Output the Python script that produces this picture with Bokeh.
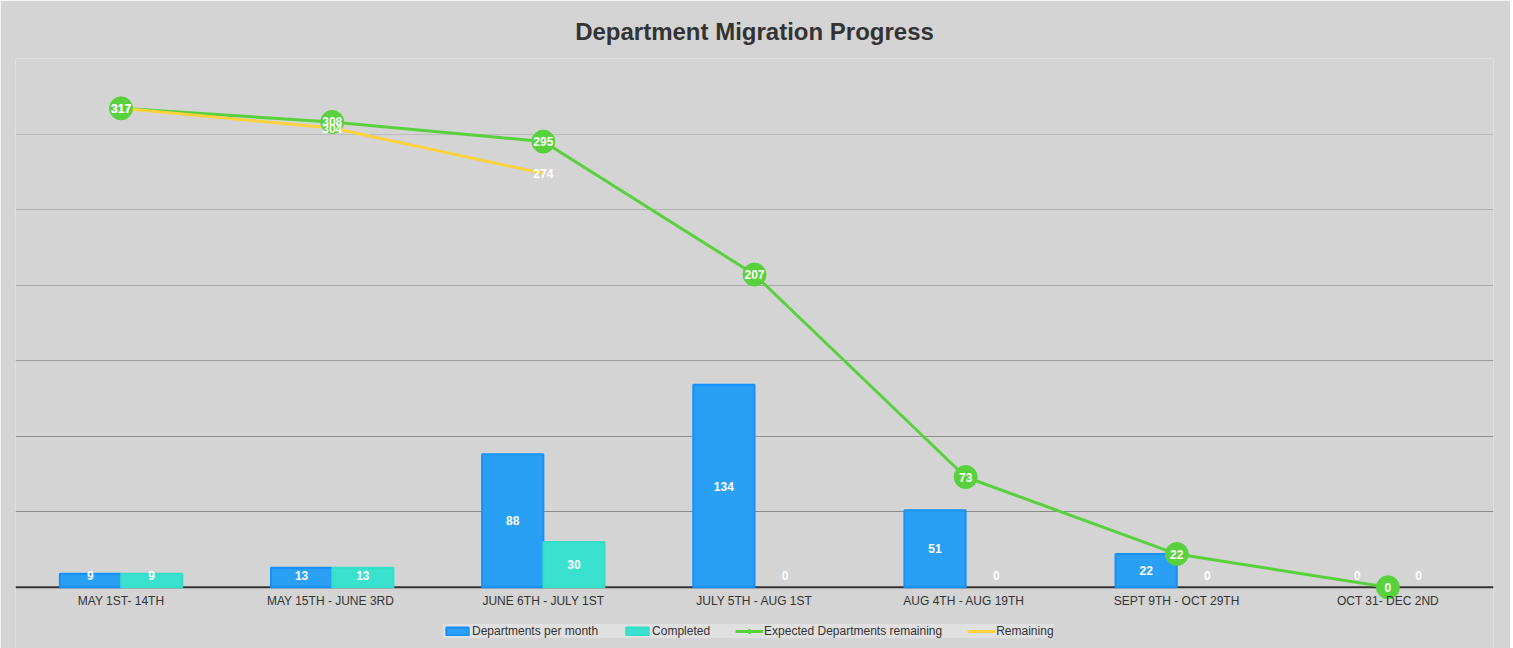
from bokeh.plotting import figure
from bokeh.models import (ColumnDataSource, FactorRange, Range1d, Span, Legend,
                          LegendItem, Grid, FixedTicker, LabelSet)
from bokeh.transform import dodge
from bokeh.core.properties import value
from bokeh.embed import file_html
from bokeh.resources import INLINE

# ---------------- data ----------------
periods = ["MAY 1ST- 14TH", "MAY 15TH  - JUNE 3RD", "JUNE 6TH - JULY 1ST",
           "JULY 5TH - AUG 1ST", "AUG 4TH -  AUG 19TH", "SEPT 9TH - OCT 29TH",
           "OCT 31- DEC 2ND"]
dept_per_month = [9, 13, 88, 134, 51, 22, 0]
completed = [9, 13, 30, 0, 0, 0, 0]
expected_remaining = [317, 308, 295, 207, 73, 22, 0]
remaining = [317, 304, 274]
grid_levels = [50, 100, 150, 200, 250, 300, 350]

FONT = value("Liberation Sans")
BG = "#d4d4d4"
BLUE, BLUE_LINE = "#2aa0f4", "#1690fb"
TEAL, TEAL_LINE = "#3be1cf", "#34ddc8"
GREEN = "#58d13d"
YELLOW = "#fdd23f"

bars = ColumnDataSource(dict(
    x=periods, dept=dept_per_month, comp=completed,
    dept_lbl=[str(v) for v in dept_per_month],
    comp_lbl=[str(v) for v in completed],
    dept_y=[max(v / 2, 8) for v in dept_per_month],
    comp_y=[max(v / 2, 8) for v in completed],
    dept_la=[1 if v > 0 else 0 for v in dept_per_month],
    comp_la=[1 if v > 0 else 0 for v in completed],
))
exp_src = ColumnDataSource(dict(x=periods, y=expected_remaining,
                                lbl=[str(v) for v in expected_remaining]))
rem_src = ColumnDataSource(dict(x=periods[:len(remaining)], y=remaining,
                                lbl=[str(v) for v in remaining]))
cat_src = ColumnDataSource(dict(x=periods, y=[-9.3] * len(periods), lbl=periods))

# frame extends down to the bottom of the chart so that axis labels and legend
# sit inside it (the value axis starts at 0 on the dark baseline)
p = figure(x_range=FactorRange(*periods), y_range=Range1d(-40.5, 350),
           frame_width=1478, frame_height=590,
           min_border_left=15, min_border_right=17, min_border_top=58,
           min_border_bottom=0,
           output_backend="svg", toolbar_location=None,
           background_fill_color=BG, border_fill_color=BG,
           outline_line_color=None)

p.title.text = "Department Migration Progress"
p.title.align = "center"
p.title.text_font = "Liberation Sans"
p.title.text_font_size = "24px"
p.title.text_font_style = "bold"
p.title.text_color = "#333333"
p.title.standoff = 27

p.yaxis.visible = False
p.xaxis.visible = False
p.ygrid.visible = False
p.xgrid.visible = False
grid_colors = ["#8a8a8a", "#909090", "#9c9c9c", "#a8a8a8", "#b2b2b2", "#bcbcbc", "#c6c6c6"]
for lvl, col in zip(grid_levels, grid_colors):
    g = Grid(dimension=1, ticker=FixedTicker(ticks=[lvl]), grid_line_color=col,
             grid_line_width=1)
    p.add_layout(g)

base = Span(location=0, dimension="width", line_color="#333333", line_width=2,
            level="underlay")
p.add_layout(base)

b1 = p.vbar(x=dodge("x", -0.145, range=p.x_range), top="dept", bottom=0, width=0.29,
            source=bars, fill_color=BLUE, line_color=BLUE_LINE, line_width=2,
            line_alpha="dept_la")
b2 = p.vbar(x=dodge("x", 0.145, range=p.x_range), top="comp", bottom=0, width=0.29,
            source=bars, fill_color=TEAL, line_color=TEAL_LINE, line_width=2,
            line_alpha="comp_la")

gl = p.line("x", "y", source=exp_src, line_color=GREEN, line_width=3)
yl = p.line("x", "y", source=rem_src, line_color=YELLOW, line_width=3)
gc = p.scatter("x", "y", source=exp_src, size=23, fill_color=GREEN, line_color=GREEN)

lbl_kw = dict(text_font=FONT, text_font_size="12px", text_font_style="bold",
              text_color="white", text_align="center", text_baseline="middle")
p.add_layout(LabelSet(x=dodge("x", -0.145, range=p.x_range), y="dept_y", text="dept_lbl",
                      source=bars, **lbl_kw))
p.add_layout(LabelSet(x=dodge("x", 0.145, range=p.x_range), y="comp_y", text="comp_lbl",
                      source=bars, **lbl_kw))
p.add_layout(LabelSet(x="x", y="y", text="lbl", source=rem_src, **lbl_kw))
p.add_layout(LabelSet(x="x", y="y", text="lbl", source=exp_src, **lbl_kw))

# category (x axis) labels
p.add_layout(LabelSet(x="x", y="y", text="lbl", source=cat_src, text_font=FONT,
                      text_font_size="12px", text_color="#333333",
                      text_align="center", text_baseline="middle"))

legend = Legend(items=[
    LegendItem(label="Departments per month", renderers=[b1]),
    LegendItem(label="Completed", renderers=[b2]),
    LegendItem(label="Expected Departments remaining", renderers=[gl, gc]),
    LegendItem(label="Remaining", renderers=[yl]),
], orientation="horizontal", location=(428, 10),
    background_fill_color="#e0e0e0", background_fill_alpha=1.0,
    border_line_color=None, label_text_font="Liberation Sans",
    label_text_font_size="12px", label_text_color="#333333",
    glyph_width=28, glyph_height=10, label_standoff=1, spacing=25,
    padding=6, margin=0, label_height=10)
p.add_layout(legend)

open("out.html", "w").write(file_html(p, INLINE))
